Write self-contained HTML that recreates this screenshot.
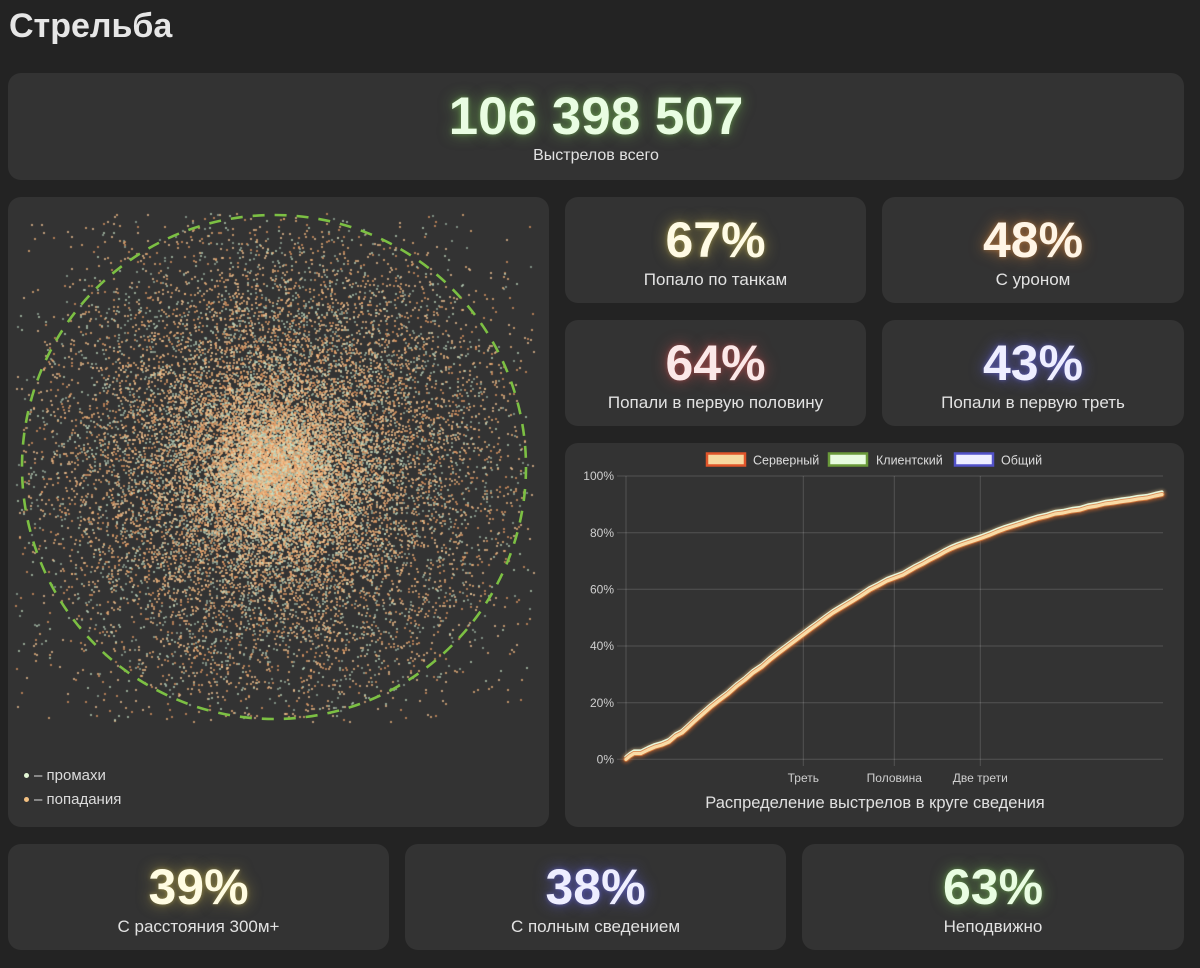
<!DOCTYPE html>
<html><head><meta charset="utf-8">
<style>
html,body{margin:0;padding:0;}
body{width:1200px;height:968px;overflow:hidden;background:#232323;position:relative;font-family:"Liberation Sans","DejaVu Sans",sans-serif;color:#e0e0e0;}
.card{position:absolute;background:#333333;border-radius:13px;}
.t{position:absolute;left:0;right:0;text-align:center;white-space:nowrap;}
.num{font-weight:bold;font-size:50px;line-height:50px;top:18px;}
.lbl{font-size:17px;line-height:20px;top:73px;color:#e2e2e2;}
h1{position:absolute;left:9px;top:6px;margin:0;font-size:34px;line-height:40px;font-weight:bold;color:#e6e6e6;}
#sc{position:absolute;left:8px;top:197px;width:541px;height:630px;border-radius:13px;
 background:radial-gradient(circle at 266px 270px, rgba(235,180,125,0.9) 0px, rgba(200,150,105,0.55) 60px, rgba(130,110,90,0.35) 150px, rgba(80,75,70,0.2) 250px, rgba(51,51,51,0) 300px);}
.leg{position:absolute;left:24px;font-size:15px;line-height:18px;color:#dcdcdc;}
.dot{display:inline-block;width:5px;height:5px;border-radius:50%;margin-right:5px;vertical-align:middle;position:relative;top:-1px;}
</style></head><body>
<h1>Стрельба</h1>

<div class="card" style="left:8px;top:73px;width:1176px;height:107px;">
  <div class="t" style="font-weight:bold;font-size:53px;line-height:53px;top:17px;color:#e9fde2;text-shadow:0 0 14px rgba(130,210,90,0.55),0 0 4px rgba(150,230,110,0.4);">106 398 507</div>
  <div class="t lbl" style="font-size:16px;">Выстрелов всего</div>
</div>

<div class="card" style="left:8px;top:197px;width:541px;height:630px;"></div>
<canvas id="sc" width="541" height="630"></canvas>
<div class="leg" style="top:767px;"><span class="dot" style="background:#e4f7d6"></span>– промахи</div>
<div class="leg" style="top:791px;"><span class="dot" style="background:#f4c182"></span>– попадания</div>

<div class="card" style="left:565px;top:197px;width:301px;height:106px;">
  <div class="t num" style="color:#fffbe4;text-shadow:0 0 14px rgba(220,200,80,0.55),0 0 4px rgba(230,210,100,0.4);">67%</div>
  <div class="t lbl">Попало по танкам</div>
</div>
<div class="card" style="left:882px;top:197px;width:302px;height:106px;">
  <div class="t num" style="color:#fff5e6;text-shadow:0 0 14px rgba(230,140,60,0.6),0 0 4px rgba(240,160,80,0.4);">48%</div>
  <div class="t lbl">С уроном</div>
</div>
<div class="card" style="left:565px;top:320px;width:301px;height:106px;">
  <div class="t num" style="color:#fbe8e8;text-shadow:0 0 14px rgba(220,80,80,0.6),0 0 4px rgba(230,100,100,0.4);">64%</div>
  <div class="t lbl">Попали в первую половину</div>
</div>
<div class="card" style="left:882px;top:320px;width:302px;height:106px;">
  <div class="t num" style="color:#eeeeff;text-shadow:0 0 14px rgba(100,100,230,0.7),0 0 4px rgba(120,120,240,0.5);">43%</div>
  <div class="t lbl">Попали в первую треть</div>
</div>

<div class="card" style="left:565px;top:443px;width:619px;height:384px;"></div>

<div class="card" style="left:8px;top:844px;width:381px;height:106px;">
  <div class="t num" style="color:#fffce2;text-shadow:0 0 14px rgba(220,200,80,0.55),0 0 4px rgba(230,210,100,0.4);">39%</div>
  <div class="t lbl">С расстояния 300м+</div>
</div>
<div class="card" style="left:405px;top:844px;width:381px;height:106px;">
  <div class="t num" style="color:#eeeeff;text-shadow:0 0 14px rgba(100,100,230,0.7),0 0 4px rgba(120,120,240,0.5);">38%</div>
  <div class="t lbl">С полным сведением</div>
</div>
<div class="card" style="left:802px;top:844px;width:382px;height:106px;">
  <div class="t num" style="color:#e9fde2;text-shadow:0 0 14px rgba(130,210,90,0.55),0 0 4px rgba(150,230,110,0.4);">63%</div>
  <div class="t lbl">Неподвижно</div>
</div>

<svg width="1200" height="968" style="position:absolute;left:0;top:0;" xmlns="http://www.w3.org/2000/svg">
  <defs>
    <filter id="bl" x="-10%" y="-10%" width="120%" height="120%"><feGaussianBlur stdDeviation="1.6"/></filter>
    <path id="cv" d="M626,759.3 L630,756 L634,753.5 L641,753.5 L648,750 L655,747 L662,745 L669,742 L676,736 L682,733 L687,728.5 L695,721 L703,714 L711,707 L720,700 L728,694 L737,686 L745,680 L753,673 L762,667 L770,660 L779,653 L787,647 L795,641 L803,635 L811,629 L818,624 L826,618 L833,613 L843,607 L853,601 L861,596 L870,590 L878,586 L887,581 L895,578 L903,575 L915,568 L923,564 L930,560 L938,556 L945,552 L951,549 L957,546.5 L964,544 L970,542 L976,540 L982,538 L990,535 L997,532 L1005,529 L1013,526.5 L1021,524 L1030,521 L1038,518.5 L1047,516.5 L1055,514 L1063,513 L1072,511 L1080,510 L1088,507.5 L1097,506 L1105,504 L1113,503 L1122,501.5 L1130,500.5 L1138,499 L1147,498 L1155,496 L1162,494.5"/>
  </defs>
  <!-- scatter dashed circle -->
  <circle cx="274" cy="467" r="252" fill="none" stroke="#7cc043" stroke-width="2.6" stroke-dasharray="12 10"/>

  <!-- chart grid -->
  <g stroke="rgba(255,255,255,0.16)" stroke-width="1">
    <line x1="617" y1="476" x2="1163" y2="476"/>
    <line x1="617" y1="532.7" x2="1163" y2="532.7"/>
    <line x1="617" y1="589.3" x2="1163" y2="589.3"/>
    <line x1="617" y1="646" x2="1163" y2="646"/>
    <line x1="617" y1="702.7" x2="1163" y2="702.7"/>
    <line x1="617" y1="759.3" x2="1163" y2="759.3"/>
    <line x1="626" y1="476" x2="626" y2="759.3"/>
    <line x1="803.3" y1="476" x2="803.3" y2="766"/>
    <line x1="894.3" y1="476" x2="894.3" y2="766"/>
    <line x1="980.3" y1="476" x2="980.3" y2="766"/>
  </g>
  <g font-family="Liberation Sans, sans-serif" font-size="12" fill="#cfcfcf" text-anchor="end">
    <text x="614" y="480">100%</text>
    <text x="614" y="537">80%</text>
    <text x="614" y="593.5">60%</text>
    <text x="614" y="650">40%</text>
    <text x="614" y="707">20%</text>
    <text x="614" y="763.5">0%</text>
  </g>
  <g font-family="Liberation Sans, sans-serif" font-size="12" fill="#cfcfcf" text-anchor="middle">
    <text x="803.3" y="782">Треть</text>
    <text x="894.3" y="782">Половина</text>
    <text x="980.3" y="782">Две трети</text>
  </g>
  <text x="875" y="808" font-family="Liberation Sans, sans-serif" font-size="16.5" fill="#e0e0e0" text-anchor="middle">Распределение выстрелов в круге сведения</text>

  <!-- legend -->
  <rect x="707" y="453.5" width="38" height="12" fill="#f7d9a0" stroke="#e0552a" stroke-width="2.5"/>
  <text x="753" y="464.5" font-family="Liberation Sans, sans-serif" font-size="12.5" fill="#dcdcdc">Серверный</text>
  <rect x="829" y="453.5" width="38" height="12" fill="#e8fce0" stroke="#6a9a3a" stroke-width="2.5"/>
  <text x="876" y="464.5" font-family="Liberation Sans, sans-serif" font-size="12.5" fill="#dcdcdc">Клиентский</text>
  <rect x="955" y="453.5" width="38" height="12" fill="#eeeeff" stroke="#5252c8" stroke-width="2.5"/>
  <text x="1001" y="464.5" font-family="Liberation Sans, sans-serif" font-size="12.5" fill="#dcdcdc">Общий</text>

  <!-- curves -->
  <g fill="none" stroke-linejoin="round" stroke-linecap="round">
    <use href="#cv" stroke="#e8702a" stroke-width="8" opacity="0.5" filter="url(#bl)"/>
    <use href="#cv" transform="translate(0,-2.5)" stroke="#cfe8c0" stroke-width="5" opacity="0.35" filter="url(#bl)"/>
    <use href="#cv" transform="translate(0,-2.5)" stroke="#e6f8dc" stroke-width="3.2"/>
    <use href="#cv" transform="translate(0,-1)" stroke="#f0f0ff" stroke-width="3" opacity="0.6"/>
    <use href="#cv" stroke="#d97a3c" stroke-width="5" opacity="0.85"/>
    <use href="#cv" stroke="#f9dba6" stroke-width="3.2"/>
  </g>
</svg>

<script>
(function(){
  var c=document.getElementById('sc');
  if(!c||!c.getContext)return;
  var ctx=c.getContext('2d');
  var s=2463534242;
  function rnd(){ s^=s<<13; s^=s>>>17; s^=s<<5; return (s>>>0)/4294967296; }
  var rt=[0,0.03,0.08,0.113,0.175,0.237,0.3,0.333,0.386,0.5,0.6,0.667,0.8,0.9,1.0,1.2,1.45];
  var Ft=[0,0.012,0.055,0.105,0.205,0.3,0.39,0.435,0.51,0.635,0.73,0.785,0.87,0.92,0.955,0.985,1];
  function inv(u){for(var i=1;i<Ft.length;i++){if(u<=Ft[i]){var t=(u-Ft[i-1])/(Ft[i]-Ft[i-1]);return rt[i-1]+t*(rt[i]-rt[i-1]);}}return 1.45;}
  var cx=266,cy=270,R=252;
  var hit=['rgba(240,182,125,0.72)','rgba(228,155,100,0.7)','rgba(245,200,150,0.7)'];
  var miss=['rgba(200,225,196,0.65)','rgba(175,200,180,0.6)'];
  for(var i=0;i<22000;i++){
    var r=inv(rnd())*R; var a=rnd()*6.283185;
    var x=cx+r*Math.cos(a), y=cy+r*Math.sin(a);
    if(Math.abs(x-cx)>1.03*R||Math.abs(y-cy)>1.01*R) continue;
    var h=rnd()<0.67;
    ctx.fillStyle=h?hit[(rnd()*3)|0]:miss[(rnd()*2)|0];
    ctx.fillRect(Math.round(x),Math.round(y),2,2);
  }
  c.style.background='transparent';
})();
</script>
</body></html>
